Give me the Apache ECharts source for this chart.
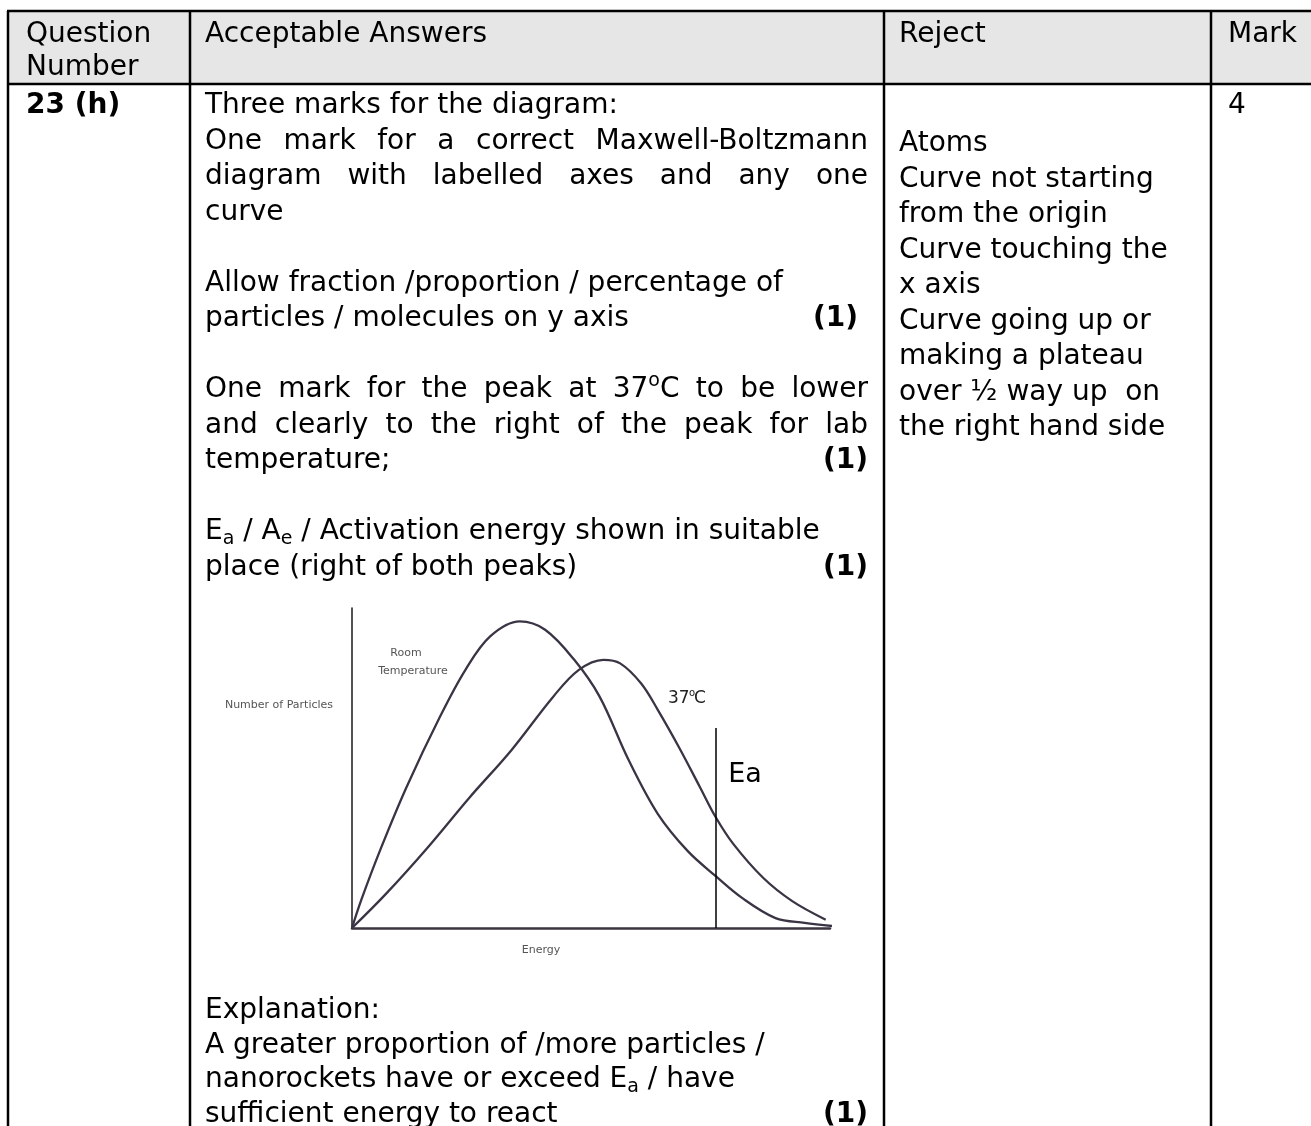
<!DOCTYPE html>
<html lang="en">
<head>
<meta charset="UTF-8">
<title>Maxwell-Boltzmann mark scheme</title>
<script src="https://cdn.jsdelivr.net/npm/echarts@6/dist/echarts.min.js"></script>
<style>html,body{margin:0;padding:0;background:#fff}</style>
</head>
<body>
<div id="app" style="width:1311px;height:1126px"></div>
<script>
// curves: [energy, number of particles], both 0-100
var roomTemp = [[0,0],[2,9],[6.1,25.1],[11.4,44],[18.4,66],[23.7,80.6],[28.9,91.1],[35.1,95.8],[40.4,93.2],
  [46.5,83.8],[51.8,72.3],[57.9,52.4],[64,35.6],[70.2,24.1],[76.1,16.2],[81.6,9.4],[88.6,3.1],[94.7,1.6],[101.3,0.5]];
var bodyTemp = [[0,0],[7,10.5],[15.8,25.1],[24.6,40.8],[33.3,55.5],[42.1,72.3],[47.4,80.6],[52.6,83.8],[56.1,82.7],
  [60.5,76.4],[64,68.1],[68.4,56.5],[72.8,44],[76.1,34.6],[79.8,26.2],[86,15.7],[92.1,8.4],[99.1,2.6]];
var eaEnergy = 76.1;
var eaTop = 62.5;

// table text. ^x^ = superscript, _x_ = subscript, *x* = bold
var headers = [['Question', 'Number'], ['Acceptable Answers'], ['Reject'], ['Mark']];
var questionNo = '*23 (h)*';
var markTotal = '4';
// [text, justify, mark]
var answerLines = [
  ['Three marks for the diagram:', false, ''],
  ['One mark for a correct Maxwell-Boltzmann', true, ''],
  ['diagram with labelled axes and any one', true, ''],
  ['curve', false, ''],
  ['', false, ''],
  ['Allow fraction /proportion / percentage of', false, ''],
  ['particles / molecules on y axis', false, '(1)'],
  ['', false, ''],
  ['One mark for the peak at 37^o^C to be lower', true, ''],
  ['and clearly to the right of the peak for lab', true, ''],
  ['temperature;', false, '(1)'],
  ['', false, ''],
  ['E_a_ / A_e_ / Activation energy shown in suitable', false, ''],
  ['place (right of both peaks)', false, '(1)']
];
var explanationLines = [
  ['Explanation:', false, ''],
  ['A greater proportion of /more particles /', false, ''],
  ['nanorockets have or exceed E_a_ / have', false, ''],
  ['sufficient energy to react', false, '(1)']
];
var rejectLines = ['Atoms', 'Curve not starting', 'from the origin', 'Curve touching the', 'x axis',
  'Curve going up or', 'making a plateau', 'over \u00bd way up  on', 'the right hand side'];

var FAM = '"DejaVu Sans", Verdana, sans-serif';
var fonts = {
  n: '28px ' + FAM,
  b: 'bold 28px ' + FAM,
  sub: '19px ' + FAM,
  sup: '19px ' + FAM
};
var ctx = document.createElement('canvas').getContext('2d');
function measure(t, kind) { ctx.font = fonts[kind]; return ctx.measureText(t).width; }

function parse(str) {
  var out = [];
  str.split(/(\^[^^]*\^|_[^_]*_|\*[^*]*\*)/).forEach(function (p) {
    if (!p) return;
    var c = p.charAt(0);
    if (c === '^') out.push({t: p.slice(1, -1), k: 'sup'});
    else if (c === '_') out.push({t: p.slice(1, -1), k: 'sub'});
    else if (c === '*') out.push({t: p.slice(1, -1), k: 'b'});
    else out.push({t: p, k: 'n'});
  });
  return out;
}

var els = [];
var dyText = 2; // DejaVu sits a little higher than the original Verdana
function seg(x, y, s) {
  var dy = s.k === 'sub' ? 7 : (s.k === 'sup' ? -9 : 0);
  els.push({type: 'text', x: x, y: y + dy + dyText, z: 10, silent: true,
    style: {text: s.t, font: fonts[s.k], fill: '#000', textAlign: 'left', textVerticalAlign: 'middle',
      align: 'left', verticalAlign: 'middle'}});
  return measure(s.t, s.k);
}
function segsWidth(segs) { return segs.reduce(function (a, s) { return a + measure(s.t, s.k); }, 0); }
function writeLine(str, x, y, justifyTo) {
  if (!justifyTo) {
    parse(str).forEach(function (s) { x += seg(x, y, s); });
    return;
  }
  var words = str.split(' ').map(parse);
  var total = words.reduce(function (a, w) { return a + segsWidth(w); }, 0);
  var gap = (justifyTo - x - total) / (words.length - 1);
  words.forEach(function (w) {
    w.forEach(function (s) { x += seg(x, y, s); });
    x += gap;
  });
}
function writeMark(str, right, y) {
  var s = {t: str, k: 'b'};
  seg(right - measure(str, 'b'), y, s);
}

// table frame
var colX = [8, 190, 884, 1211];
var tableTop = 11, headBottom = 84, bottom = 1130, rightEdge = 1320;
els.push({type: 'rect', z: 1, silent: true, shape: {x: colX[0], y: tableTop, width: rightEdge - colX[0], height: headBottom - tableTop},
  style: {fill: '#e6e6e6'}});
[tableTop, headBottom].forEach(function (y) {
  els.push({type: 'line', z: 5, silent: true, shape: {x1: colX[0] - 1, y1: y, x2: rightEdge, y2: y}, style: {stroke: '#000', lineWidth: 2.5}});
});
colX.forEach(function (x) {
  els.push({type: 'line', z: 5, silent: true, shape: {x1: x, y1: tableTop, x2: x, y2: bottom}, style: {stroke: '#000', lineWidth: 2.5}});
});

var textX = [26, 205, 899, 1228];
headers.forEach(function (h, i) {
  h.forEach(function (t, j) { writeLine(t, textX[i], 33 + j * 33); });
});
writeLine(questionNo, textX[0], 104);
writeLine(markTotal, textX[3], 104);

var lineGap = 35.5;
var answerRight = 868;
answerLines.forEach(function (l, i) {
  var y = 104 + i * lineGap;
  if (l[0]) writeLine(l[0], textX[1], y, l[1] ? answerRight : 0);
  if (l[2]) writeMark(l[2], i === 6 ? 858 : answerRight, y);
});
explanationLines.forEach(function (l, i) {
  var y = 1009 + i * 34.5;
  writeLine(l[0], textX[1], y, l[1] ? answerRight : 0);
  if (l[2]) writeMark(l[2], answerRight, y);
});
rejectLines.forEach(function (t, i) { writeLine(t, textX[2], 142 + i * lineGap); });

// labels on the sketch
function label(t, x, y, size, color) {
  els.push({type: 'text', x: x, y: y, z: 10, silent: true,
    style: {text: t, font: size + 'px ' + FAM, fill: color, textAlign: 'center', textVerticalAlign: 'middle',
      align: 'center', verticalAlign: 'middle'}});
}
label('Number of Particles', 279, 705, 11, '#555');
label('Room', 406, 653, 11, '#555');
label('Temperature', 413, 671, 11, '#555');
label('Energy', 541, 950, 11, '#555');
label('Ea', 745, 775, 27, '#000');
els.push({type: 'text', x: 668, y: 699, z: 10, silent: true,
  style: {text: '37', font: '17px ' + FAM, fill: '#222', textVerticalAlign: 'middle', verticalAlign: 'middle'}});
els.push({type: 'text', x: 689, y: 693, z: 10, silent: true,
  style: {text: 'o', font: '10px ' + FAM, fill: '#222', textVerticalAlign: 'middle', verticalAlign: 'middle'}});
els.push({type: 'text', x: 694, y: 699, z: 10, silent: true,
  style: {text: 'C', font: '17px ' + FAM, fill: '#222', textVerticalAlign: 'middle', verticalAlign: 'middle'}});

var curveStyle = {color: '#3b3445', width: 2.3};
var chart = echarts.init(document.getElementById('app'));
chart.setOption({
  animation: false,
  backgroundColor: '#fff',
  grid: {left: 352, top: 608, width: 478, height: 320},
  xAxis: {type: 'value', min: 0, max: 100,
    axisLine: {show: true, lineStyle: {color: '#3a3540', width: 2.5}},
    axisTick: {show: false}, axisLabel: {show: false}, splitLine: {show: false}},
  yAxis: {type: 'value', min: 0, max: 100,
    axisLine: {show: true, lineStyle: {color: '#1a1a1a', width: 1.5}},
    axisTick: {show: false}, axisLabel: {show: false}, splitLine: {show: false}},
  graphic: {elements: els},
  series: [
    {name: 'Room Temperature', type: 'line', data: roomTemp, smooth: 0.35, symbol: 'none', clip: false, lineStyle: curveStyle,
      markLine: {silent: true, symbol: ['none', 'none'], label: {show: false},
        lineStyle: {color: '#000', width: 1.5, type: 'solid'},
        data: [[{coord: [eaEnergy, 0]}, {coord: [eaEnergy, eaTop]}]]}},
    {name: '37\u00b0C', type: 'line', data: bodyTemp, smooth: 0.35, symbol: 'none', clip: false, lineStyle: curveStyle}
  ]
});
</script>
</body>
</html>
